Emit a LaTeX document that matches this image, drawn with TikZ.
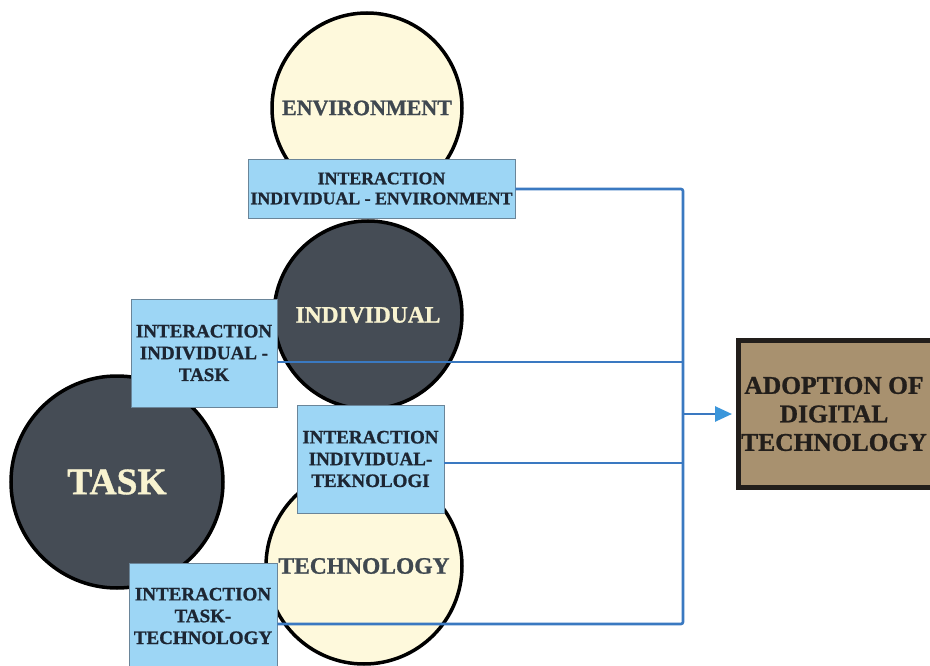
\documentclass[tikz,border=0pt]{standalone}
\usepackage{fontspec}
\setmainfont{Liberation Serif}[BoldFeatures={FakeBold=1}]
\usetikzlibrary{arrows.meta,calc}
\definecolor{creamfill}{HTML}{FEF9DC}
\definecolor{darkfill}{HTML}{454C55}
\definecolor{darktext}{HTML}{3F4850}
\definecolor{lighttext}{HTML}{F8F3D0}
\definecolor{boxfill}{HTML}{9DD6F5}
\definecolor{boxline}{HTML}{6A8599}
\definecolor{boxtext}{HTML}{1D2633}
\definecolor{linkblue}{HTML}{3A79C1}
\definecolor{tipblue}{HTML}{3B96DB}
\definecolor{tan}{HTML}{A8916F}
\definecolor{tanline}{HTML}{221E1B}
\tikzset{
  ring/.style={circle, draw=black, line width=3.5pt, inner sep=0pt, font=\bfseries},
  lightring/.style={ring, fill=creamfill, text=darktext},
  darkring/.style={ring, fill=darkfill, text=lighttext},
  ibox/.style={rectangle, draw=boxline, line width=0.8pt, fill=boxfill, text=boxtext,
    inner sep=0pt, align=center, font=\bfseries\fontsize{19}{21.8}\selectfont},
  link/.style={draw=linkblue, line width=2.6pt},
  adoptframe/.style={rectangle, draw=tanline, line width=5pt, fill=tan, inner sep=0pt},
  adopttext/.style={align=center, text=tanline, inner sep=0pt,
    font=\bfseries\fontsize{25.5}{28.5}\selectfont}
}
\begin{document}
\begin{tikzpicture}[x=1pt,y=-1pt]
\useasboundingbox[fill=white] (0,0) rectangle (930,666);

% circles
\node[lightring, minimum size=190pt, font=\bfseries\fontsize{22}{24}\selectfont] (env) at (367,108) {ENVIRONMENT};
\node[darkring, minimum size=188pt, font=\bfseries\fontsize{23.5}{26}\selectfont] (ind) at (368,315) {INDIVIDUAL};
\node[darkring, minimum size=212pt, font=\bfseries\fontsize{37.5}{40}\selectfont] (task) at (117,482) {TASK};
\node[lightring, minimum size=196pt, font=\bfseries\fontsize{23.5}{26}\selectfont] (tech) at (364,566) {TECHNOLOGY};

% interaction boxes
\node[ibox, minimum width=267pt, minimum height=59pt, font=\bfseries\fontsize{17.8}{20}\selectfont] (b1) at (381.5,188.5) {INTERACTION\\INDIVIDUAL - ENVIRONMENT};
\node[ibox, minimum width=146pt, minimum height=108pt] (b2) at (204,353) {INTERACTION\\INDIVIDUAL -\\TASK};
\node[ibox, minimum width=147pt, minimum height=108pt] (b3) at (370.5,459) {INTERACTION\\INDIVIDUAL-\\TEKNOLOGI};
\node[ibox, minimum width=148pt, minimum height=106pt] (b4) at (203,616) {INTERACTION\\TASK-\\TECHNOLOGY};

% adoption box
\node[adoptframe, minimum width=206.5pt, minimum height=147pt] (adoptbox) at (841.75,414) {};
\node[adopttext] (adopt) at (834,414) {ADOPTION OF\\DIGITAL\\TECHNOLOGY};

% bus coordinates
\coordinate (bus1) at (683,189);
\coordinate (bus2) at (683,362);
\coordinate (bus3) at (683,463);
\coordinate (bus4) at (683,624);
\coordinate (busA) at (683,414);

% connectors
\draw[link, rounded corners=2pt] (b1.east |- bus1) -| (bus4) -- (b4.east |- bus4);
\draw[link] (b2.east |- bus2) -- (bus2);
\draw[link] (b3.east |- bus3) -- (bus3);
\draw[link, shorten >=4pt, -{Triangle[length=17pt,width=15pt,color=tipblue,fill=tipblue]}] (busA) -- (adoptbox.west);
\end{tikzpicture}
\end{document}
